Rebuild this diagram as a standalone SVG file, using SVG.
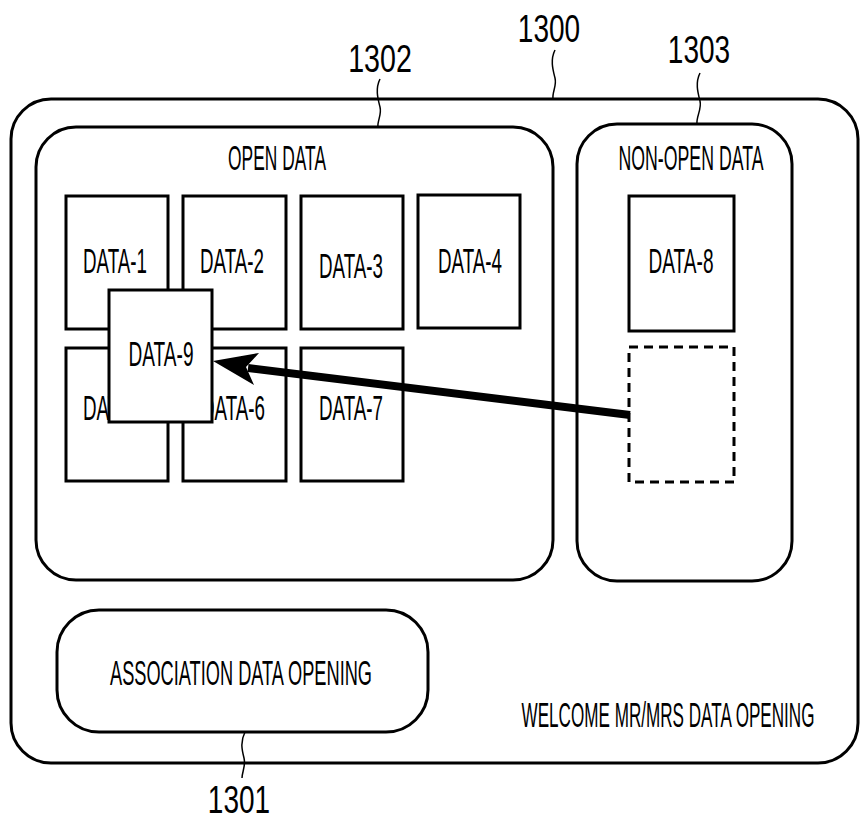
<svg xmlns="http://www.w3.org/2000/svg" width="861" height="823" viewBox="0 0 861 823">
<style>
.bg{fill:#fff}
.frame{fill:#fff;stroke:#000;stroke-width:3}
.box{fill:#fff;stroke:#000;stroke-width:3}
.dash{fill:none;stroke:#000;stroke-width:3;stroke-dasharray:9 6}
.lbl{font-family:"Liberation Sans",Arial,sans-serif;font-size:35px;fill:#000;text-anchor:middle}
.num{font-family:"Liberation Sans",Arial,sans-serif;font-size:39px;fill:#000;text-anchor:middle}
.lead{fill:none;stroke:#000;stroke-width:1.5}
.arrow{fill:none;stroke:#000;stroke-width:8;stroke-linecap:butt}
</style>
<rect class="bg" x="0" y="0" width="861" height="823"/>

<g id="n1300">
  <rect class="frame" x="11" y="99" width="847" height="664" rx="40" ry="40"/>
  <text class="lbl" transform="translate(668,727) scale(0.5,1)" textLength="586" lengthAdjust="spacingAndGlyphs">WELCOME MR/MRS DATA OPENING</text>
</g>

<g id="n1302">
  <rect class="frame" x="36" y="127" width="517" height="453" rx="40" ry="40"/>
  <text class="lbl" transform="translate(277,170) scale(0.5,1)" textLength="196" lengthAdjust="spacingAndGlyphs">OPEN DATA</text>
</g>

<g id="n1303">
  <rect class="frame" x="577" y="124" width="215" height="457" rx="40" ry="40"/>
  <text class="lbl" transform="translate(691,170) scale(0.5,1)" textLength="290" lengthAdjust="spacingAndGlyphs">NON-OPEN DATA</text>
</g>

<g id="n1301">
  <rect class="frame" x="57" y="610" width="371" height="122" rx="42" ry="42"/>
  <text class="lbl" transform="translate(241,685) scale(0.5,1)" textLength="524" lengthAdjust="spacingAndGlyphs">ASSOCIATION DATA OPENING</text>
</g>

<g id="data1">
  <rect class="box" x="66" y="196" width="102" height="133"/>
  <text class="lbl" transform="translate(115,273) scale(0.5,1)" textLength="128" lengthAdjust="spacingAndGlyphs">DATA-1</text>
</g>
<g id="data2">
  <rect class="box" x="183" y="196" width="103" height="133"/>
  <text class="lbl" transform="translate(232,273) scale(0.5,1)" textLength="128" lengthAdjust="spacingAndGlyphs">DATA-2</text>
</g>
<g id="data3">
  <rect class="box" x="301" y="196" width="102" height="133"/>
  <text class="lbl" transform="translate(351,278) scale(0.5,1)" textLength="128" lengthAdjust="spacingAndGlyphs">DATA-3</text>
</g>
<g id="data4">
  <rect class="box" x="418" y="195" width="102" height="133"/>
  <text class="lbl" transform="translate(470,273) scale(0.5,1)" textLength="128" lengthAdjust="spacingAndGlyphs">DATA-4</text>
</g>
<g id="data5">
  <rect class="box" x="66" y="348" width="102" height="133"/>
  <text class="lbl" transform="translate(115,420) scale(0.5,1)" textLength="128" lengthAdjust="spacingAndGlyphs">DATA-5</text>
</g>
<g id="data6">
  <rect class="box" x="183" y="348" width="103" height="133"/>
  <text class="lbl" transform="translate(233,420) scale(0.5,1)" textLength="128" lengthAdjust="spacingAndGlyphs">DATA-6</text>
</g>
<g id="data7">
  <rect class="box" x="301" y="348" width="102" height="133"/>
  <text class="lbl" transform="translate(351,420) scale(0.5,1)" textLength="128" lengthAdjust="spacingAndGlyphs">DATA-7</text>
</g>
<g id="data8">
  <rect class="box" x="629" y="196" width="105" height="135"/>
  <text class="lbl" transform="translate(681,273) scale(0.5,1)" textLength="130" lengthAdjust="spacingAndGlyphs">DATA-8</text>
</g>
<g id="data8-vacated">
  <rect class="dash" x="629" y="347" width="105" height="135"/>
</g>
<g id="data9">
  <rect class="box" x="109" y="290" width="103" height="132"/>
  <text class="lbl" transform="translate(161,366) scale(0.5,1)" textLength="130" lengthAdjust="spacingAndGlyphs">DATA-9</text>
</g>

<g id="connectors">
  <line class="arrow" x1="630" y1="415" x2="248" y2="368"/>
  <polygon points="213,361 259,353 246,367 254,385" fill="#000"/>
</g>

<g id="leaders">
  <path class="lead" d="M555,50 C550,60 553,70 555,78 C557,86 552,92 553,99"/>
  <path class="lead" d="M380,79 C375,89 378,99 380,107 C382,115 377,121 378,127"/>
  <path class="lead" d="M700,73 C695,83 698,93 700,101 C702,109 696,117 697,124"/>
  <path class="lead" d="M245,732 C240,742 242,750 244,758 C246,766 242,772 242,778"/>
  <text class="num" transform="translate(549,42) scale(0.7,1)" textLength="89" lengthAdjust="spacingAndGlyphs">1300</text>
  <text class="num" transform="translate(380,72) scale(0.7,1)" textLength="91" lengthAdjust="spacingAndGlyphs">1302</text>
  <text class="num" transform="translate(699,63) scale(0.7,1)" textLength="89" lengthAdjust="spacingAndGlyphs">1303</text>
  <text class="num" transform="translate(239,813) scale(0.7,1)" textLength="89" lengthAdjust="spacingAndGlyphs">1301</text>
</g>
</svg>
